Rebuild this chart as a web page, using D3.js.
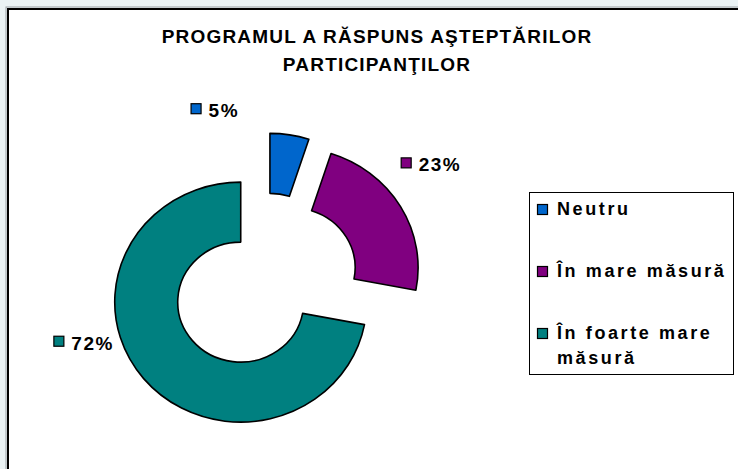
<!DOCTYPE html>
<html>
<head>
<meta charset="utf-8">
<script src="https://cdn.jsdelivr.net/npm/d3@7"></script>
<style>
    html, body { margin: 0; padding: 0; background: #eaf2f4; }
    svg { display: block; }
    text { font-family: "Liberation Sans", Arial, sans-serif; font-weight: bold; fill: #000; }
</style>
</head>
<body>
<svg id="chart" width="738" height="469"></svg>
<script>
// data
var categories = ['Neutru', 'În mare măsură', 'În foarte mare măsură'];
var values = [5, 23, 72];
var valueLabels = ['5%', '23%', '72%'];
var legendLines = [['Neutru'], ['În mare măsură'], ['În foarte mare', 'măsură']];
var titleLines = ['PROGRAMUL A RĂSPUNS AŞTEPTĂRILOR', 'PARTICIPANŢILOR'];
var colors = ['#0066CC', '#800080', '#008080'];

// layout
var width = 738, height = 469;
var cx = 265, cy = 283;           // pie centre before explosion
var outerR = 120, innerR = 60;
var stretchX = 1.05;              // pie is drawn slightly wider than tall
var explode = 30;
// label nudges from the radial anchor point
var labelNudge = [[-104, 11], [-27, -21], [-66, -49]];

var svg = d3.select('#chart');

// chart area frame
svg.append('rect')
    .attr('x', 6).attr('y', 7)
    .attr('width', width + 20).attr('height', height + 20)
    .attr('fill', 'none').attr('stroke', '#9aa0a4').attr('stroke-width', 1);
svg.append('rect')
    .attr('x', 8).attr('y', 9)
    .attr('width', width + 20).attr('height', height + 20)
    .attr('fill', '#fff').attr('stroke', '#000').attr('stroke-width', 2);

// title
svg.append('g').selectAll('text')
    .data(titleLines)
    .enter().append('text')
    .attr('x', 377)
    .attr('y', function(d, i){ return 43 + i * 28; })
    .attr('text-anchor', 'middle')
    .style('font-size', '19px')
    .style('letter-spacing', '1.2px')
    .text(function(d){ return d; });

var pie = d3.pie().sort(null).value(function(d){ return d; });
var arcs = pie(values);
var arc = d3.arc().innerRadius(innerR).outerRadius(outerR);

var sliceCenter = function(d){
    var mid = (d.startAngle + d.endAngle) / 2;
    return [cx + stretchX * explode * Math.sin(mid), cy - explode * Math.cos(mid)];
};

svg.append('g').selectAll('path.slice')
    .data(arcs)
    .enter().append('path')
    .attr('class', 'slice')
    .attr('transform', function(d){
        return 'translate(' + sliceCenter(d) + ') scale(' + stretchX + ',1)';
    })
    .attr('d', arc)
    .attr('fill', function(d, i){ return colors[i]; })
    .attr('stroke', '#000')
    .attr('stroke-width', 1.6)
    .attr('stroke-linejoin', 'round')
    .attr('vector-effect', 'non-scaling-stroke');

// data labels with legend key
var labels = svg.append('g').selectAll('g.label')
    .data(arcs)
    .enter().append('g')
    .attr('class', 'label')
    .attr('transform', function(d, i){
        var c = sliceCenter(d);
        var mid = (d.startAngle + d.endAngle) / 2;
        var r = outerR + 30;
        var x = c[0] + stretchX * r * Math.sin(mid) + labelNudge[i][0];
        var y = c[1] - r * Math.cos(mid) + labelNudge[i][1];
        return 'translate(' + [x, y] + ')';
    });
labels.append('rect')
    .attr('x', 0.5).attr('y', -12.5)
    .attr('width', 10).attr('height', 10)
    .attr('fill', function(d, i){ return colors[i]; })
    .attr('stroke', '#000').attr('stroke-width', 1.2);
labels.append('text')
    .attr('x', 18).attr('y', 1)
    .style('font-size', '19px')
    .style('letter-spacing', '1.5px')
    .text(function(d, i){ return valueLabels[i]; });

// legend
var legend = svg.append('g').attr('transform', 'translate(529,192)');
legend.append('rect')
    .attr('x', 0.5).attr('y', 0.5)
    .attr('width', 204).attr('height', 182)
    .attr('fill', '#fff').attr('stroke', '#000').attr('stroke-width', 1);

var legendY = d3.scalePoint().domain(categories).range([23, 147]);
var items = legend.selectAll('g.item')
    .data(categories)
    .enter().append('g')
    .attr('class', 'item')
    .attr('transform', function(d){ return 'translate(0,' + legendY(d) + ')'; });
items.append('rect')
    .attr('x', 8.5).attr('y', -10.5)
    .attr('width', 10).attr('height', 10)
    .attr('fill', function(d, i){ return colors[i]; })
    .attr('stroke', '#000').attr('stroke-width', 1.2);
items.each(function(d, i){
    d3.select(this).selectAll('text')
        .data(legendLines[i])
        .enter().append('text')
        .attr('x', 28)
        .attr('y', function(t, j){ return j * 25; })
        .style('font-size', '18px')
        .style('letter-spacing', '2.6px')
        .text(function(t){ return t; });
});
</script>
</body>
</html>
